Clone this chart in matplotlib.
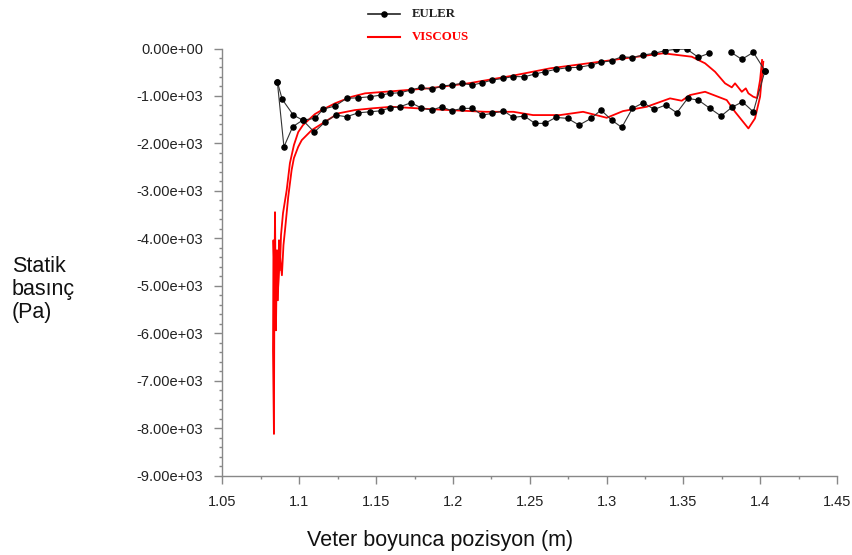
import numpy as np
import matplotlib.pyplot as plt
from matplotlib.lines import Line2D
from matplotlib.ticker import MultipleLocator, FuncFormatter

# Euler solution, upper surface (leading edge -> trailing edge), NaN = missing points
euler_up_x = [1.0857, 1.0889, 1.0961, 1.1022, 1.1102, 1.1156, 1.1232, 1.1308, 1.1384, 1.1460,
              1.1532, 1.1590, 1.1655, 1.1727, 1.1792, 1.1862, 1.1927, 1.1992, 1.2061, 1.2126,
              1.2191, 1.2256, 1.2328, 1.2393, 1.2465, 1.2534, 1.2599, 1.2669, 1.2747, 1.2821,
              1.2899, 1.2964, 1.3033, 1.3099, 1.3168, 1.3239, 1.3311, 1.3380, 1.3450, 1.3522,
              1.3597, 1.3667, np.nan, 1.3810, 1.3880, 1.3955, 1.4031]
euler_up_p = [-700, -1072, -1403, -1509, -1473, -1277, -1213, -1051, -1038, -1017,
              -981, -945, -933, -876, -819, -861, -791, -770, -734, -770,
              -722, -665, -629, -591, -595, -538, -490, -439, -405, -397,
              -348, -291, -257, -173, -190, -137, -101, -46, -17, -11,
              -186, -101, np.nan, -80, -228, -80, -468]

# Euler solution, lower surface
euler_lo_x = [1.0857, 1.0900, 1.0957, 1.1022, 1.1098, 1.1167, 1.1237, 1.1308, 1.1384, 1.1460,
              1.1532, 1.1590, 1.1655, 1.1727, 1.1792, 1.1862, 1.1927, 1.1992, 1.2061, 1.2126,
              1.2191, 1.2256, 1.2328, 1.2393, 1.2465, 1.2534, 1.2599, 1.2669, 1.2747, 1.2821,
              1.2899, 1.2964, 1.3033, 1.3099, 1.3168, 1.3239, 1.3311, 1.3384, 1.3457, 1.3528,
              1.3597, 1.3673, 1.3745, 1.3815, 1.3884, 1.3955, 1.4031]
euler_lo_p = [-700, -2072, -1650, -1509, -1762, -1551, -1403, -1439, -1355, -1334,
              -1312, -1249, -1228, -1144, -1249, -1298, -1228, -1312, -1262, -1262,
              -1403, -1367, -1312, -1452, -1424, -1578, -1578, -1452, -1473, -1614,
              -1473, -1298, -1509, -1663, -1262, -1144, -1283, -1192, -1355, -1051,
              -1087, -1262, -1424, -1241, -1123, -1334, -468]

# Viscous solution, upper surface
visc_up_x = [1.0835, 1.0838, 1.0842, 1.0848, 1.0855, 1.0861, 1.0868, 1.0874, 1.0881, 1.0894,
             1.0918, 1.0939, 1.0965, 1.0993, 1.1024, 1.1059, 1.1102, 1.1146, 1.1232, 1.1341,
             1.1428, 1.1558, 1.1840, 1.2100, 1.2393, 1.2632, 1.2957, 1.3120, 1.3369, 1.3554,
             1.3641, 1.3706, 1.3771, 1.3815, 1.3836, 1.3880, 1.3906, 1.3923, 1.3955, 1.3979,
             1.3999, 1.4012]
visc_up_p = [-8113, -5096, -3450, -5940, -4252, -5307, -4041, -4674, -3935, -3471,
             -2986, -2416, -2036, -1762, -1614, -1509, -1382, -1298, -1156, -1017,
             -945, -912, -840, -734, -570, -418, -279, -207, -101, -173,
             -312, -490, -734, -819, -734, -912, -840, -945, -1017, -1044,
             -665, -243]

# Viscous solution, lower surface
visc_lo_x = [1.0835, 1.0829, 1.0832, 1.0842, 1.0852, 1.0861, 1.0874, 1.0887, 1.0897, 1.0907,
             1.0928, 1.0950, 1.0965, 1.0993, 1.1016, 1.1081, 1.1167, 1.1254, 1.1362, 1.1471,
             1.1601, 1.1883, 1.2209, 1.2393, 1.2521, 1.2697, 1.2847, 1.3001, 1.3107, 1.3261,
             1.3413, 1.3489, 1.3543, 1.3641, 1.3782, 1.3836, 1.3923, 1.3966, 1.3999, 1.4020]
visc_lo_p = [-8113, -6362, -4041, -5307, -4568, -5096, -4357, -4779, -4146, -3830,
             -3127, -2564, -2310, -2072, -1931, -1720, -1545, -1367, -1298, -1262,
             -1228, -1283, -1334, -1334, -1403, -1403, -1334, -1460, -1319, -1228,
             -1051, -1101, -981, -912, -1087, -1334, -1684, -1473, -1017, -279]

fig = plt.figure(figsize=(8.53, 5.55), dpi=100)
ax = fig.add_axes([0.2608, 0.1432, 0.7205, 0.7694])

ax.plot(visc_up_x, visc_up_p, color='red', lw=1.3)
ax.plot(visc_lo_x, visc_lo_p, color='red', lw=1.3)
ax.plot(euler_up_x, euler_up_p, color='#333333', lw=0.8, marker='o', ms=3.7, mfc='black', mec='black')
ax.plot(euler_lo_x, euler_lo_p, color='#333333', lw=0.8, marker='o', ms=3.7, mfc='black', mec='black')

ax.set_xlim(1.05, 1.45)
ax.set_ylim(-9000, 0)
ax.xaxis.set_major_locator(MultipleLocator(0.05))
ax.xaxis.set_minor_locator(MultipleLocator(0.025))
ax.yaxis.set_major_locator(MultipleLocator(1000))
ax.yaxis.set_minor_locator(MultipleLocator(200))
ax.xaxis.set_major_formatter(FuncFormatter(lambda v, p: f'{v:g}'))
ax.yaxis.set_major_formatter(FuncFormatter(lambda v, p: f'{v:.2e}'))

for s in ['top', 'right']:
    ax.spines[s].set_visible(False)
for s in ['left', 'bottom']:
    ax.spines[s].set_color('#888888')
    ax.spines[s].set_linewidth(1.0)

ax.tick_params(which='major', direction='out', length=6, width=1, color='#888888',
               labelsize=10.5, labelcolor='#222222', pad=8,
               labelfontfamily='Liberation Sans')
ax.tick_params(which='minor', direction='out', length=2.5, width=1, color='#888888')

fig.text(0.5155, 0.027, 'Veter boyunca pozisyon (m)', fontsize=15.5, family='Liberation Sans',
         ha='center', va='center', color='#111111')
fig.text(0.014, 0.478, 'Statik\nbasınç\n(Pa)', fontsize=15.5, family='Liberation Sans',
         ha='left', va='center', linespacing=1.12, color='#111111')

# legend drawn at the top
fig.add_artist(Line2D([0.4314, 0.469], [0.9748, 0.9748], color='#222222', lw=1.2,
                      transform=fig.transFigure))
fig.add_artist(Line2D([0.450], [0.9748], marker='o', ms=3.7, color='black',
                      transform=fig.transFigure))
fig.text(0.483, 0.9748, 'EULER', fontsize=9.3, fontweight='bold', family='Liberation Serif',
         color='#222222', ha='left', va='center')
fig.add_artist(Line2D([0.4314, 0.469], [0.9333, 0.9333], color='red', lw=1.5,
                      transform=fig.transFigure))
fig.text(0.483, 0.9333, 'VISCOUS', fontsize=9.3, fontweight='bold', family='Liberation Serif',
         color='red', ha='left', va='center')

fig.savefig('out.png', dpi=100)
